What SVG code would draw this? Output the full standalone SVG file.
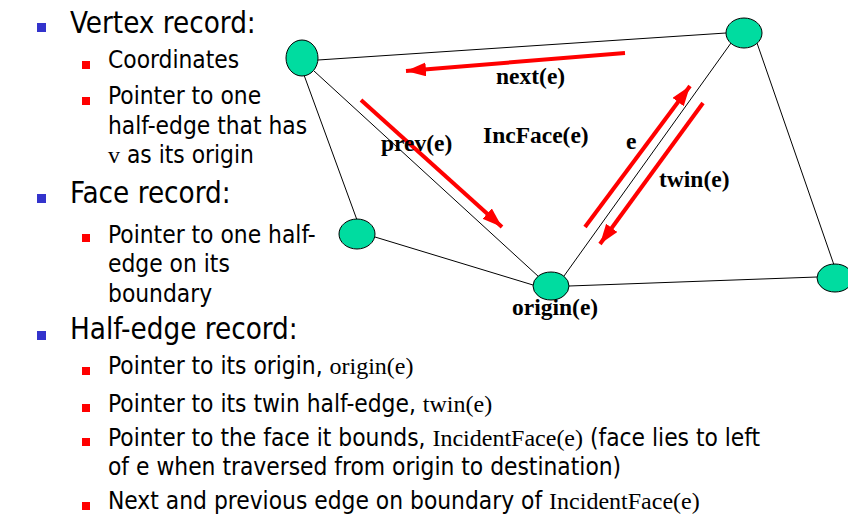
<svg xmlns="http://www.w3.org/2000/svg" width="848" height="517" viewBox="0 0 848 517">
<style>
.h{font-family:'DejaVu Sans Condensed','Liberation Sans',sans-serif;font-size:29.3px;fill:#000}
.s{font-family:'DejaVu Sans Condensed','Liberation Sans',sans-serif;font-size:24.3px;fill:#000}
.t{font-family:'Liberation Serif','Times New Roman',serif;font-size:24px}
.lbl{font-family:'Liberation Serif','Times New Roman',serif;font-size:23.5px;font-weight:bold;fill:#000}
.bb{fill:#3333cc}
.rb{fill:#ff0000}
.edge{stroke:#000;stroke-width:1;fill:none}
.vx{fill:#00dca0;stroke:#000;stroke-width:1}
.ra{stroke:#ff0000;stroke-width:4;fill:none;marker-end:url(#ah)}
</style>
<defs>
<marker id="ah" markerUnits="userSpaceOnUse" markerWidth="22" markerHeight="16" refX="20" refY="7" orient="auto">
<path d="M0,0 L20,7 L0,14 Z" fill="#ff0000"/>
</marker>
</defs>
<rect width="848" height="517" fill="#fff"/>
<g id="text">
<rect class="bb" x="37" y="23" width="9" height="9"/>
<text class="h" x="70" y="33">Vertex record:</text>
<rect class="rb" x="82" y="61" width="8" height="8"/>
<text class="s" x="108" y="68">Coordinates</text>
<rect class="rb" x="82" y="97" width="8" height="8"/>
<text class="s" x="108" y="104">Pointer to one</text>
<text class="s" x="108" y="134">half-edge that has</text>
<text class="s" x="108" y="163"><tspan class="t">v</tspan> as its origin</text>
<rect class="bb" x="37" y="194" width="9" height="9"/>
<text class="h" x="70" y="203">Face record:</text>
<rect class="rb" x="82" y="234" width="8" height="8"/>
<text class="s" x="108" y="243">Pointer to one half-</text>
<text class="s" x="108" y="272">edge on its</text>
<text class="s" x="108" y="302">boundary</text>
<rect class="bb" x="37" y="331" width="9" height="9"/>
<text class="h" x="70" y="339">Half-edge record:</text>
<rect class="rb" x="82" y="367" width="8" height="8"/>
<text class="s" x="108" y="374">Pointer to its origin, <tspan class="t">origin(e)</tspan></text>
<rect class="rb" x="82" y="404" width="8" height="8"/>
<text class="s" x="108" y="412">Pointer to its twin half-edge, <tspan class="t">twin(e)</tspan></text>
<rect class="rb" x="82" y="438" width="8" height="8"/>
<text class="s" x="108" y="446">Pointer to the face it bounds, <tspan class="t">IncidentFace(e)</tspan> (face lies to left</text>
<text class="s" x="108" y="475">of e when traversed from origin to destination)</text>
<rect class="rb" x="82" y="502" width="8" height="8"/>
<text class="s" x="108" y="509">Next and previous edge on boundary of <tspan class="t">IncidentFace(e)</tspan></text>
</g>
<g id="connectors">
<line class="edge" x1="318" y1="60" x2="726" y2="33"/>
<line class="edge" x1="304" y1="75" x2="357" y2="220"/>
<line class="edge" x1="314" y1="71" x2="539" y2="277"/>
<line class="edge" x1="375" y1="237" x2="533" y2="285"/>
<line class="edge" x1="564" y1="276" x2="731" y2="43"/>
<line class="edge" x1="569" y1="286" x2="817" y2="277"/>
<line class="edge" x1="757" y1="43" x2="834" y2="265"/>
<line class="ra" x1="625" y1="53" x2="406" y2="71"/>
<line class="ra" x1="361" y1="100" x2="502" y2="227"/>
<line class="ra" x1="585" y1="227" x2="690" y2="86"/>
<line class="ra" x1="703" y1="103" x2="600" y2="244"/>
</g>
<g id="v1"><ellipse class="vx" cx="302" cy="58" rx="16" ry="18"/></g>
<g id="v2"><ellipse class="vx" cx="744" cy="33" rx="18" ry="15"/></g>
<g id="v3"><ellipse class="vx" cx="357" cy="234" rx="18" ry="15"/></g>
<g id="v4"><ellipse class="vx" cx="551" cy="286" rx="18" ry="14"/></g>
<g id="v5"><ellipse class="vx" cx="835" cy="278" rx="18" ry="14"/></g>
<g id="labels">
<text class="lbl" x="496" y="84">next(e)</text>
<text class="lbl" x="483" y="143">IncFace(e)</text>
<text class="lbl" x="381" y="151">prev(e)</text>
<text class="lbl" x="626" y="149">e</text>
<text class="lbl" x="659" y="187">twin(e)</text>
<text class="lbl" x="512" y="315">origin(e)</text>
</g>
</svg>
